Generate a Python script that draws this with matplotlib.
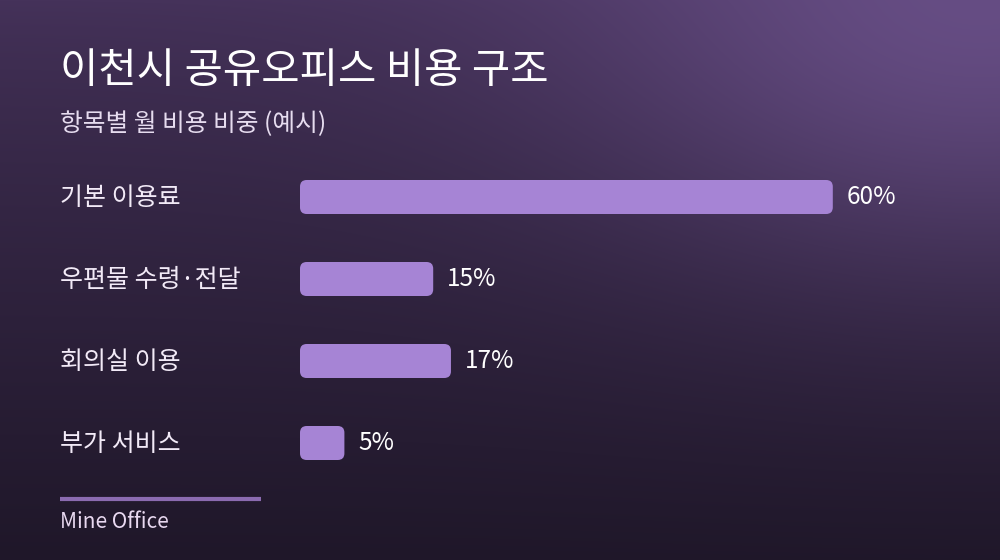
import matplotlib
matplotlib.use('Agg')
import matplotlib.pyplot as plt
import numpy as np
from matplotlib.patches import FancyBboxPatch
from matplotlib.colors import to_rgb

plt.rcParams['font.family'] = ['Noto Sans CJK KR', 'DejaVu Sans']

# data
title = '이천시 공유오피스 비용 구조'
subtitle = '항목별 월 비용 비중 (예시)'
categories = ['기본 이용료', '우편물 수령·전달', '회의실 이용', '부가 서비스']
values = [60, 15, 17, 5]
value_labels = ['60%', '15%', '17%', '5%']
footer = 'Mine Office'

W, H = 1000, 560
fig = plt.figure(figsize=(W / 100, H / 100), dpi=100)

# background gradient (vertical + glow in the top-right corner)
bg = fig.add_axes([0, 0, 1, 1])
bg.set_xlim(0, W)
bg.set_ylim(H, 0)
bg.axis('off')
yy, xx = np.mgrid[0:H, 0:W]
top = np.array(to_rgb('#45325a'))
bot = np.array(to_rgb('#1f1729'))
t = (yy / H) ** 0.8
img = top * (1 - t[..., None]) + bot * t[..., None]
glow_c = np.array(to_rgb('#664d84'))
d = np.sqrt((xx - 980) ** 2 + ((yy + 20) * 1.5) ** 2)
g = np.exp(-(d / 400) ** 2)
img = img * (1 - g[..., None]) + glow_c * g[..., None]
bg.imshow(img, extent=[0, W, H, 0], aspect='auto', zorder=0)

bg.text(60, 71, title, color='white', fontsize=30, va='center', ha='left')
bg.text(60, 124, subtitle, color='#e6dcef', fontsize=17.8, va='center', ha='left')
bg.plot([60, 261], [499, 499], color='#8b6bb0', lw=3, solid_capstyle='butt')
bg.text(60, 522, footer, color='#e8d8f0', fontsize=15, va='center', ha='left')

# bar area: x in percent, y in category slots
left_px, px_per_pct = 300, 8.88
top_px, slot = 156, 82
ax = fig.add_axes([left_px / W, 1 - (top_px + 4 * slot) / H,
                   100 * px_per_pct / W, 4 * slot / H])
ax.set_xlim(0, 100)
ax.set_ylim(3.5, -0.5)
ax.axis('off')

bar_h = 34 / slot
aspect = px_per_pct / slot
for i, (cat, v, lab) in enumerate(zip(categories, values, value_labels)):
    box = FancyBboxPatch((0, i - bar_h / 2), v, bar_h,
                         boxstyle='round,pad=0,rounding_size=0.75',
                         mutation_aspect=aspect,
                         fc='#a684d5', ec='none')
    ax.add_patch(box)
    ax.text(v + 14 / px_per_pct, i, lab, color='white', fontsize=17.5,
            va='center', ha='left')
    bg.text(60, top_px + slot * (i + 0.5) + 1, cat, color='#f2eaf7',
            fontsize=18, va='center', ha='left')

fig.savefig('out.png', dpi=100)
